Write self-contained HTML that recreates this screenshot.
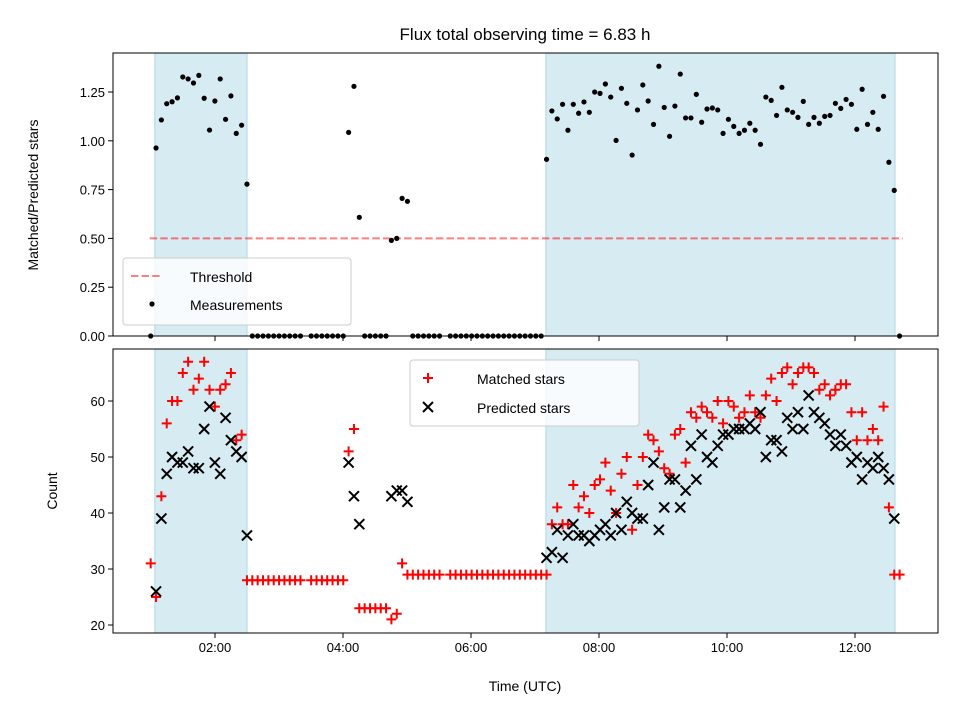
<!DOCTYPE html>
<html><head><meta charset="utf-8"><style>
body{margin:0;background:#fff;}
svg{display:block;font-family:"Liberation Sans","DejaVu Sans",sans-serif;}
</style></head><body>
<svg id="chart" width="960" height="720" viewBox="0 0 960 720" xmlns="http://www.w3.org/2000/svg">
<rect width="960" height="720" fill="#fff"/>
<text x="525" y="40" font-size="17" text-anchor="middle">Flux total observing time = 6.83 h</text>
<text transform="translate(38,195) rotate(-90)" font-size="14" text-anchor="middle">Matched/Predicted stars</text>
<text transform="translate(57,491) rotate(-90)" font-size="14" text-anchor="middle">Count</text>
<text x="525" y="691" font-size="14" text-anchor="middle">Time (UTC)</text>
<g id="gTop"></g>
<g id="gBot"></g>
</svg>
<script>
const ratio=[0,0.963,1.107,1.19,1.20,1.22,1.327,1.317,1.296,1.335,1.218,1.055,1.204,1.317,1.11,1.23,1.038,1.08,0.778,
0,0,0,0,0,0,0,0,0,0,null,0,0,0,0,0,0,0,1.043,1.279,0.608,0,0,0,0,0,0.49,0.50,0.705,0.69,0,0,0,0,0,0,null,
0,0,0,0,0,0,0,0,0,0,0,0,0,0,0,0,0,0,0.905,
1.153,1.112,1.187,1.054,1.187,1.141,1.199,1.146,1.25,1.243,1.291,1.224,1.002,1.269,1.192,0.927,1.158,1.286,1.204,1.084,1.382,1.171,1.023,1.178,1.342,1.117,1.117,1.238,1.095,1.163,1.168,1.158,1.038,1.11,
1.074,1.038,1.054,1.09,1.054,0.982,1.224,1.207,1.13,1.274,1.158,1.146,1.12,1.202,1.084,1.12,1.09,1.125,1.13,1.192,1.166,1.212,1.187,1.059,1.264,1.084,1.146,1.059,1.228,0.89,0.746,0];
const matched=[31,25,43,56,60,60,65,67,62,64,67,62,59,62,63,65,53,54,28,
28,28,28,28,28,28,28,28,28,28,null,28,28,28,28,28,28,28,51,55,23,23,23,23,23,23,21,22,31,29,29,29,29,29,29,29,null,
29,29,29,29,29,29,29,29,29,29,29,29,29,29,29,29,29,29,29,
38,41,38,38,45,41,43,40,45,46,49,44,40,47,50,37,45,50,54,53,51,48,47,54,55,49,58,57,59,58,57,60,56,60,
59,57,58,61,58,57,61,64,60,65,66,63,65,66,66,65,62,63,61,62,63,63,58,53,58,53,55,53,59,41,29,29];
const N=null;
const predicted=[N,26,39,47,50,49,49,51,48,48,55,59,49,47,57,53,51,50,36,
N,N,N,N,N,N,N,N,N,N,N,N,N,N,N,N,N,N,49,43,38,N,N,N,N,N,43,44,44,42,N,N,N,N,N,N,N,
N,N,N,N,N,N,N,N,N,N,N,N,N,N,N,N,N,N,32,
33,37,32,36,38,36,36,35,36,37,38,36,40,37,42,40,39,39,45,49,37,41,46,46,41,44,52,46,54,50,49,52,54,54,
55,55,55,56,55,58,50,53,53,51,57,55,58,55,61,58,57,56,54,52,54,52,49,50,46,49,48,50,48,46,39,N];
const startHour=0.995, stepMinutes=5.015;
const xTickHours=[2,4,6,8,10,12];
const xTickLabels=["02:00","04:00","06:00","08:00","10:00","12:00"];
const topTicks=[0,0.25,0.5,0.75,1.0,1.25];
const topTickLabels=["0.00","0.25","0.50","0.75","1.00","1.25"];
const botTicks=[20,30,40,50,60];
const bands=[[1.06,2.5],[7.17,12.625]];
const threshold=0.5, thrRange=[0.98,12.75];

const NS="http://www.w3.org/2000/svg";
const L=113,R=938,T1=53,B1=336,T2=349,B2=633;
const X=h=>215+(h-2)*64;
const Y1=v=>336-v*195.2;
const Y2=v=>625-(v-20)*5.6;
const timeOf=i=>startHour+i*stepMinutes/60;
function mk(p,tag,a){const e=document.createElementNS(NS,tag);for(const k in a)e.setAttribute(k,a[k]);p.appendChild(e);return e;}
const gT=document.getElementById('gTop'),gB=document.getElementById('gBot');

function frame(g,T,B){
  bands.forEach(b=>{const r=mk(g,'rect',{x:X(b[0]),y:T,width:X(b[1])-X(b[0]),height:B-T,fill:'#add8e6','fill-opacity':0.5,stroke:'#add8e6','stroke-width':1});
  
  });
}
function axes(g,T,B,labels){
  const r=mk(g,'rect',{x:L,y:T,width:R-L,height:B-T,fill:'none',stroke:'#000','stroke-width':1});
  
  
  xTickHours.forEach((h,i)=>{mk(g,'line',{x1:X(h),x2:X(h),y1:B,y2:B+5,stroke:'#000'});
    if(labels){const t=mk(g,'text',{x:X(h),y:B+19,'font-size':13,'text-anchor':'middle'});t.textContent=xTickLabels[i];
    
    }});
}
// top panel
frame(gT,T1,B1);
const th=mk(gT,'line',{x1:X(thrRange[0]),x2:X(thrRange[1]),y1:Y1(threshold),y2:Y1(threshold),stroke:'#ff0000','stroke-opacity':0.5,'stroke-width':2,'stroke-dasharray':'7.4,3.2'});


ratio.forEach((v,i)=>{if(v===null)return;const c=mk(gT,'circle',{cx:X(timeOf(i)),cy:Y1(v),r:2.6,fill:'#000'});
  
  });
topTicks.forEach((v,i)=>{mk(gT,'line',{x1:L-5,x2:L,y1:Y1(v),y2:Y1(v),stroke:'#000'});
  const t=mk(gT,'text',{x:L-8,y:Y1(v)+5,'font-size':13,'text-anchor':'end'});t.textContent=topTickLabels[i];
  
  });
axes(gT,T1,B1,false);
// top legend
const lg1=mk(gT,'g',{});


mk(lg1,'rect',{x:123,y:258,width:228,height:67,rx:3,fill:'#fff','fill-opacity':0.8,stroke:'#ccc'});
mk(lg1,'line',{x1:131,x2:160,y1:276,y2:276,stroke:'#ff0000','stroke-opacity':0.5,'stroke-width':2,'stroke-dasharray':'7.4,3.2'});
mk(lg1,'circle',{cx:152,cy:304,r:2.6,fill:'#000'});
let t=mk(lg1,'text',{x:190,y:282,'font-size':14});t.textContent='Threshold';
t=mk(lg1,'text',{x:190,y:310,'font-size':14});t.textContent='Measurements';

// bottom panel
frame(gB,T2,B2);
function plus(g,x,y){const p=mk(g,'path',{d:`M${x-5},${y}h10M${x},${y-5}v10`,stroke:'#ff0000','stroke-width':2,fill:'none'});return p;}
function cross(g,x,y){const p=mk(g,'path',{d:`M${x-5},${y-5}l10,10M${x-5},${y+5}l10,-10`,stroke:'#000','stroke-width':2,fill:'none'});return p;}
matched.forEach((v,i)=>{if(v===null)return;const p=plus(gB,X(timeOf(i)),Y2(v));
  
  });
predicted.forEach((v,i)=>{if(v===null)return;const p=cross(gB,X(timeOf(i)),Y2(v));
  
  });
botTicks.forEach(v=>{mk(gB,'line',{x1:L-5,x2:L,y1:Y2(v),y2:Y2(v),stroke:'#000'});
  const t=mk(gB,'text',{x:L-8,y:Y2(v)+5,'font-size':13,'text-anchor':'end'});t.textContent=String(v);
  
  });
axes(gB,T2,B2,true);
const lg2=mk(gB,'g',{});


mk(lg2,'rect',{x:410,y:360,width:229,height:66,rx:3,fill:'#fff','fill-opacity':0.8,stroke:'#ccc'});
plus(lg2,428,378);cross(lg2,428,407);
t=mk(lg2,'text',{x:477,y:384,'font-size':14});t.textContent='Matched stars';
t=mk(lg2,'text',{x:477,y:413,'font-size':14});t.textContent='Predicted stars';
</script>
</body></html>
